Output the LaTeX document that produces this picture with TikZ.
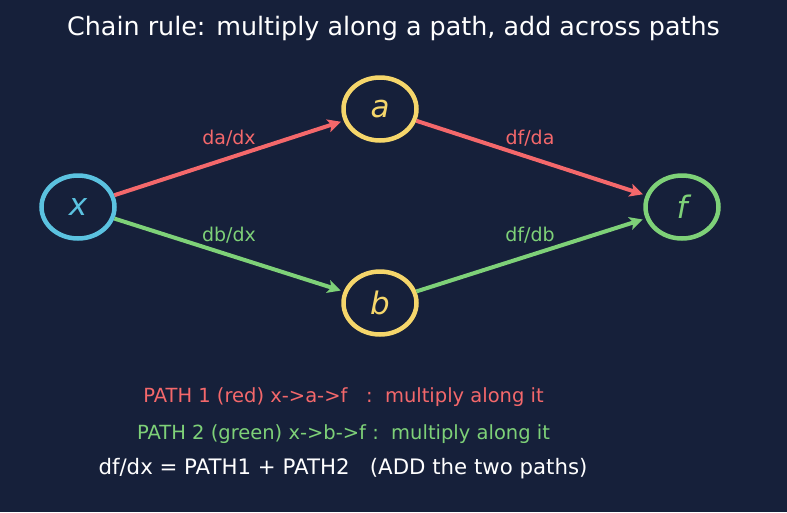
\documentclass[tikz,border=0pt]{standalone}
\usepackage{fontspec}
\setmainfont{DejaVu Sans}
\usetikzlibrary{arrows.meta,shapes.geometric}
\definecolor{bg}{HTML}{16203A}
\definecolor{cblue}{HTML}{5BC2E0}
\definecolor{cyel}{HTML}{F5D66B}
\definecolor{cgreen}{HTML}{7ED178}
\definecolor{cred}{HTML}{F4686B}
\tikzset{
  var/.style={ellipse, draw, line width=4.5pt, minimum width=73pt, minimum height=63pt, inner sep=0pt,
    font=\fontsize{31}{34}\selectfont\itshape},
  edge/.style={line width=4pt, -{Stealth[length=13pt,width=13pt,inset=3pt]}, shorten >=3pt, shorten <=0pt},
  elabel/.style={font=\fontsize{19}{22}\selectfont},
  note/.style={font=\fontsize{19.5}{22}\selectfont},
}
\begin{document}
\begin{tikzpicture}[x=1pt,y=-1pt]
\fill[bg] (0,0) rectangle (787,512);
\useasboundingbox (0,0) rectangle (787,512);
\node[text=white, font=\fontsize{25.4}{28}\selectfont] (title) at (393.5,28) {Chain rule: multiply along a path, add across paths};
\node[var, cblue, text=cblue] (x) at (78,207) {x};
\node[var, cyel, text=cyel] (a) at (380,109) {a};
\node[var, cyel, text=cyel] (b) at (380,303) {b};
\node[var, cgreen, text=cgreen] (f) at (682,207) {f};
\draw[edge, cred] (x) -- (a);
\draw[edge, cred] (a) -- (f);
\draw[edge, cgreen] (x) -- (b);
\draw[edge, cgreen] (b) -- (f);
\node[elabel, text=cred] (l1) at (229,138) {da/dx};
\node[elabel, text=cred] (l2) at (530,138) {df/da};
\node[elabel, text=cgreen] (l3) at (229,235) {db/dx};
\node[elabel, text=cgreen] (l4) at (530,235) {df/db};
\node[note, text=cred] (p1) at (343.5,397) {PATH 1 (red) x->a->f\ \ \ :\ \ multiply along it};
\node[note, text=cgreen] (p2) at (343.5,434) {PATH 2 (green) x->b->f :\ \ multiply along it};
\node[font=\fontsize{21.3}{25}\selectfont, text=white] (p3) at (343,469) {df/dx = PATH1 + PATH2\ \ \ (ADD the two paths)};
\end{tikzpicture}
\end{document}
